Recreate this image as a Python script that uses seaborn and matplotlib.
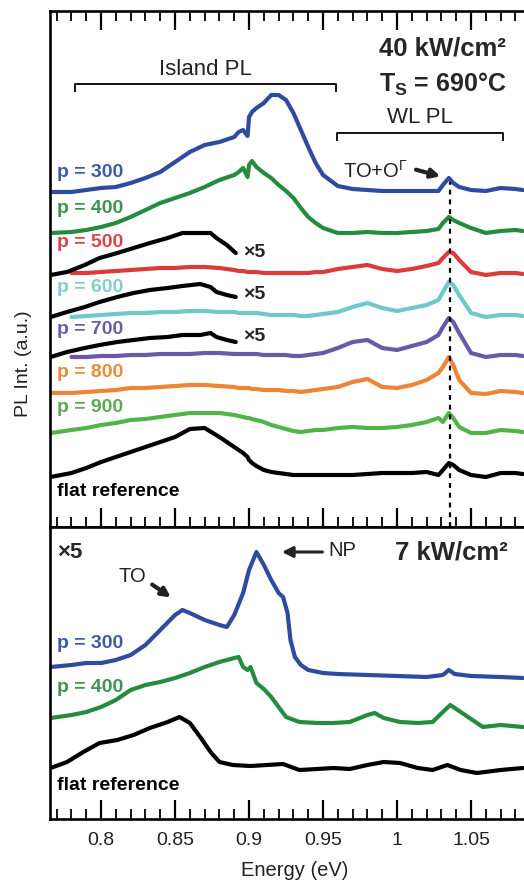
import numpy as np
import pandas as pd
import matplotlib
matplotlib.use("Agg")
import matplotlib.pyplot as plt
from matplotlib.ticker import FixedLocator
import seaborn as sns

# ---------------- data ----------------
# Top panel: 40 kW/cm^2, stacked spectra (intensity in a.u. incl. offset)
energy_top = [0.766, 0.780, 0.790, 0.800, 0.810, 0.820, 0.830, 0.840, 0.850, 0.860,
              0.870, 0.880, 0.890, 0.893, 0.896, 0.899, 0.900, 0.902, 0.905, 0.910,
              0.915, 0.920, 0.925, 0.930, 0.935, 0.940, 0.945, 0.950, 0.960, 0.970,
              0.980, 0.990, 1.000, 1.010, 1.020, 1.028, 1.031, 1.035, 1.038, 1.042,
              1.050, 1.060, 1.070, 1.080, 1.085]
p300_top = [335, 335, 337, 339, 340, 344, 349, 355, 365, 375,
            382, 385, 390, 395, 397, 391, 410, 415, 419, 424,
            432, 432, 427, 414, 397, 380, 364, 352, 341, 338,
            337, 336, 336, 336, 336, 336, 342, 349, 344, 340,
            337, 336, 339, 338, 337]
p400_top = [294, 295, 297, 300, 304, 310, 317, 324, 329, 334,
            340, 347, 352, 355, 359, 350, 362, 366, 360, 354,
            349, 342, 336, 329, 319, 310, 304, 299, 294, 294,
            295, 294, 294, 295, 296, 298, 304, 310, 307, 304,
            299, 294, 296, 297, 296]
p500_top = [np.nan, 254, 254, 255, 256, 257, 258, 259, 259, 260,
            260, 259, 257, 256, 256, 255, 255, 255, 255, 254,
            254, 254, 254, 254, 254, 254, 255, 255, 258, 260,
            262, 258, 256, 258, 261, 264, 269, 275, 274, 267,
            255, 252, 254, 254, 253]
p600_top = [np.nan, 210, 211, 212, 213, 214, 214, 215, 215, 216,
            216, 215, 215, 214, 214, 214, 214, 214, 214, 213,
            212, 212, 212, 212, 211, 211, 212, 213, 215, 220,
            224, 219, 216, 219, 222, 227, 235, 245, 242, 232,
            214, 210, 212, 212, 211]
p700_top = [np.nan, 170, 170, 171, 171, 172, 172, 173, 173, 173,
            174, 174, 173, 173, 173, 173, 173, 173, 173, 172,
            172, 172, 172, 171, 171, 172, 173, 174, 179, 185,
            187, 179, 177, 181, 185, 192, 200, 209, 205, 194,
            174, 170, 172, 172, 171]
p800_top = [134, 134, 135, 136, 137, 139, 139, 140, 141, 142,
            142, 141, 140, 139, 139, 139, 139, 138, 138, 137,
            137, 137, 136, 136, 135, 136, 137, 138, 140, 145,
            148, 140, 139, 142, 147, 154, 160, 170, 162, 147,
            134, 133, 136, 135, 134]
p900_top = [94, 97, 99, 102, 104, 107, 108, 110, 112, 114,
            114, 114, 112, 111, 110, 109, 109, 108, 107, 105,
            102, 100, 98, 96, 95, 96, 97, 97, 99, 100,
            99, 99, 100, 102, 105, 109, 105, 114, 109, 100,
            94, 94, 97, 96, 95]
flat_top = [50, 54, 59, 65, 70, 75, 80, 85, 90, 98,
            99, 90, 80, 77, 74, 70, 67, 64, 61, 57,
            55, 54, 53, 52, 52, 52, 52, 52, 52, 52,
            53, 54, 54, 54, 55, 52, 57, 64, 62, 57,
            52, 50, 54, 54, 53]

# x5 magnified island PL for p = 500, 600, 700
energy_x5 = [0.766, 0.777, 0.789, 0.799, 0.811, 0.822, 0.833, 0.845, 0.855, 0.867,
             0.874, 0.878, 0.885, 0.891]
p500_x5 = [252, 255, 262, 269, 274, 279, 284, 289, 294, 294, 294, 289, 282, 274]
p600_x5 = [210, 215, 220, 225, 230, 234, 237, 239, 241, 243, 240, 235, 232, 230]
p700_x5 = [170, 175, 179, 182, 185, 187, 189, 190, 192, 192, 194, 190, 187, 185]

# Bottom panel: 7 kW/cm^2
energy_b300 = [0.766, 0.780, 0.790, 0.800, 0.810, 0.820, 0.830, 0.840, 0.850, 0.855,
               0.860, 0.870, 0.880, 0.885, 0.890, 0.896, 0.900, 0.905, 0.910, 0.915,
               0.920, 0.923, 0.926, 0.928, 0.931, 0.935, 0.940, 0.950, 0.960, 0.980,
               1.000, 1.020, 1.031, 1.035, 1.039, 1.050, 1.070, 1.085]
p300_bot = [152, 154, 156, 156, 159, 164, 174, 189, 204, 209,
            206, 199, 194, 192, 204, 226, 249, 267, 254, 239,
            226, 222, 206, 179, 162, 154, 149, 146, 145, 144,
            143, 142, 144, 149, 145, 143, 142, 141]
energy_b400 = [0.766, 0.780, 0.790, 0.800, 0.810, 0.820, 0.830, 0.840, 0.850, 0.860,
               0.870, 0.880, 0.885, 0.890, 0.893, 0.896, 0.899, 0.901, 0.905, 0.910,
               0.915, 0.920, 0.925, 0.934, 0.946, 0.957, 0.968, 0.980, 0.985, 0.991,
               1.002, 1.014, 1.024, 1.031, 1.036, 1.043, 1.049, 1.058, 1.070, 1.085]
p400_bot = [101, 104, 107, 112, 119, 129, 134, 137, 141, 146,
            152, 157, 159, 161, 162, 152, 149, 152, 136, 130,
            122, 112, 102, 97, 96, 96, 97, 104, 106, 101,
            97, 96, 97, 107, 114, 107, 101, 92, 94, 92]
energy_bflat = [0.766, 0.777, 0.788, 0.799, 0.811, 0.822, 0.833, 0.845, 0.853, 0.860,
                0.867, 0.874, 0.880, 0.889, 0.901, 0.912, 0.923, 0.934, 0.946, 0.957,
                0.968, 0.980, 0.991, 1.002, 1.014, 1.024, 1.034, 1.043, 1.054, 1.070,
                1.085]
flat_bot = [51, 57, 67, 76, 79, 84, 91, 97, 102, 96,
            82, 67, 57, 54, 53, 54, 55, 49, 50, 51,
            50, 54, 57, 56, 51, 49, 54, 49, 46, 49,
            51]

series_labels = ["p = 300", "p = 400", "p = 500", "p = 600", "p = 700",
                 "p = 800", "p = 900", "flat reference"]
tick_values = [0.80, 0.85, 0.90, 0.95, 1.00, 1.05]
tick_labels = ["0.8", "0.85", "0.9", "0.95", "1", "1.05"]
to_peak_energy = 1.0355
island_range = (0.7825, 0.9588)
wl_range = (0.9595, 1.0716)

# ---------------- style ----------------
sns.set_theme(style="white")
plt.rcParams['font.family'] = ['Liberation Sans', 'DejaVu Sans']
plt.rcParams['mathtext.fontset'] = 'custom'
plt.rcParams['mathtext.rm'] = 'Liberation Sans'
plt.rcParams['mathtext.bf'] = 'Liberation Sans:bold'
plt.rcParams['mathtext.it'] = 'Liberation Sans:italic'

line_colors = {"p = 300": "#2d4b9f", "p = 400": "#258c3e", "p = 500": "#dc3b3b",
               "p = 600": "#6ec9c8", "p = 700": "#6a58a8", "p = 800": "#ee8434",
               "p = 900": "#52b448", "flat reference": "#000000"}
text_colors = {"p = 300": "#3e5aa6", "p = 400": "#3c9450", "p = 500": "#d9444a",
               "p = 600": "#86cccc", "p = 700": "#6a5ea4", "p = 800": "#e88a3a",
               "p = 900": "#5aab4e", "flat reference": "#000000"}

fig = plt.figure(figsize=(5.24, 8.8), dpi=100)
ax1 = fig.add_axes([50 / 524, 1 - 527 / 880, 474 / 524, 516 / 880])
ax2 = fig.add_axes([50 / 524, 1 - 819 / 880, 474 / 524, 292 / 880])

LW = 3.0
xlim = (0.7655, 1.0858)

def draw(ax, x, y, color):
    df = pd.DataFrame({"E": x, "I": y}).dropna()
    sns.lineplot(data=df, x="E", y="I", ax=ax, color=color, lw=LW,
                 estimator=None, sort=False, legend=False)

# top panel curves
top_series = [p300_top, p400_top, p500_top, p600_top, p700_top, p800_top, p900_top, flat_top]
for name, vals in zip(series_labels, top_series):
    draw(ax1, energy_top, vals, line_colors[name])
for vals in (p500_x5, p600_x5, p700_x5):
    draw(ax1, energy_x5, vals, "black")

# bottom panel curves
draw(ax2, energy_b300, p300_bot, line_colors["p = 300"])
draw(ax2, energy_b400, p400_bot, line_colors["p = 400"])
draw(ax2, energy_bflat, flat_bot, "black")

# dotted line at TO+O peak
peak_val = p300_top[energy_top.index(1.035)]
ax1.vlines(to_peak_energy, 0, peak_val - 4, colors="black", lw=1.6,
           linestyles=(0, (2.2, 2.2)), zorder=5)

# axes formatting
for ax in (ax1, ax2):
    ax.set_xlim(*xlim)
    ax.set_yticks([])
    ax.set_xlabel("")
    ax.set_ylabel("")
    ax.xaxis.set_major_locator(FixedLocator(tick_values))
    ax.xaxis.set_minor_locator(FixedLocator(np.round(np.arange(0.77, 1.085, 0.01), 3)))
    for s in ("left", "bottom", "top"):
        ax.spines[s].set_visible(True)
        ax.spines[s].set_color("black")
        ax.spines[s].set_linewidth(1.9)
    ax.spines["right"].set_visible(False)
    ax.set_facecolor("white")
ax1.set_ylim(0, 516)
ax2.set_ylim(0, 292)

ax1.tick_params(axis="x", which="both", direction="in", top=True, bottom=True,
                labelbottom=False, labeltop=False, color="black")
ax2.tick_params(axis="x", which="both", direction="in", top=False, bottom=True,
                labelbottom=True, color="black")
for ax in (ax1, ax2):
    ax.tick_params(axis="x", which="major", length=14, width=1.6)
    ax.tick_params(axis="x", which="minor", length=7, width=1.3)
ax2.set_xticklabels(tick_labels, fontsize=14)
ax2.tick_params(axis="x", which="major", pad=9, labelcolor="#222222")

ax2.set_xlabel("Energy (eV)", fontsize=14.5, color="#222222")
ax2.xaxis.set_label_coords(0.517, -0.175)
ax2.xaxis.label.set_va("center")
fig.text(24 / 524, 1 - 364 / 880, "PL Int. (a.u.)", rotation=90, fontsize=14,
         ha="center", va="center", color="#222222")

# top panel labels
label_x = 0.7705
top_label_y = [355, 319, 285, 240, 198, 155, 120, 36]
for name, yv in zip(series_labels, top_label_y):
    ax1.text(label_x, yv, name, color=text_colors[name], fontsize=14,
             fontweight="bold", ha="left", va="center")
for yv in (275, 233, 191):
    ax1.text(0.8962, yv, "×5", fontsize=14, fontweight="bold", ha="left", va="center")

ax1.text(0.9878, 479, "40 kW/cm²", fontsize=18.5, fontweight="bold", ha="left", va="center")
ax1.text(0.9878, 443, r"T$_\mathbf{S}$ = 690°C", fontsize=18, fontweight="bold",
         ha="left", va="center")

# brackets
def bracket(ax, rng, y, drop):
    ax.plot([rng[0], rng[0], rng[1], rng[1]], [y - drop, y, y, y - drop],
            color="black", lw=1.3, solid_capstyle="butt")
bracket(ax1, island_range, 443, 8)
bracket(ax1, wl_range, 394, 8)
ax1.text(sum(island_range) / 2, 458, "Island PL", fontsize=16, ha="center", va="center",
         color="#222222")
ax1.text(1.0155, 410, "WL PL", fontsize=16, ha="center", va="center", color="#222222")
ax1.text(0.9633, 356, r"TO+O$^{\Gamma}$", fontsize=14.5, ha="left", va="center",
         color="#222222")
ax1.annotate("", xy=(1.0312, 350), xytext=(1.0110, 358),
             arrowprops=dict(arrowstyle="-|>", color="#222222", lw=3.0, mutation_scale=13))

# bottom panel labels
bot_labels = ["p = 300", "p = 400", "flat reference"]
bot_label_y = [176, 131, 34]
for name, yv in zip(bot_labels, bot_label_y):
    ax2.text(label_x, yv, name, color=text_colors[name], fontsize=14,
             fontweight="bold", ha="left", va="center")
ax2.text(0.7705, 266, "×5", fontsize=16, fontweight="bold", ha="left", va="center")
ax2.text(0.9986, 267, "7 kW/cm²", fontsize=18.5, fontweight="bold", ha="left", va="center")
ax2.text(0.9534, 269, "NP", fontsize=14.5, ha="left", va="center", color="#222222")
ax2.annotate("", xy=(0.9203, 267), xytext=(0.9515, 267),
             arrowprops=dict(arrowstyle="-|>", color="#222222", lw=2.2, mutation_scale=16))
ax2.text(0.8115, 242, "TO", fontsize=14.5, ha="left", va="center", color="#222222")
ax2.annotate("", xy=(0.8488, 220), xytext=(0.8330, 236),
             arrowprops=dict(arrowstyle="-|>", color="#222222", lw=3.0, mutation_scale=13))

fig.savefig("out.png", dpi=100, facecolor="white")
